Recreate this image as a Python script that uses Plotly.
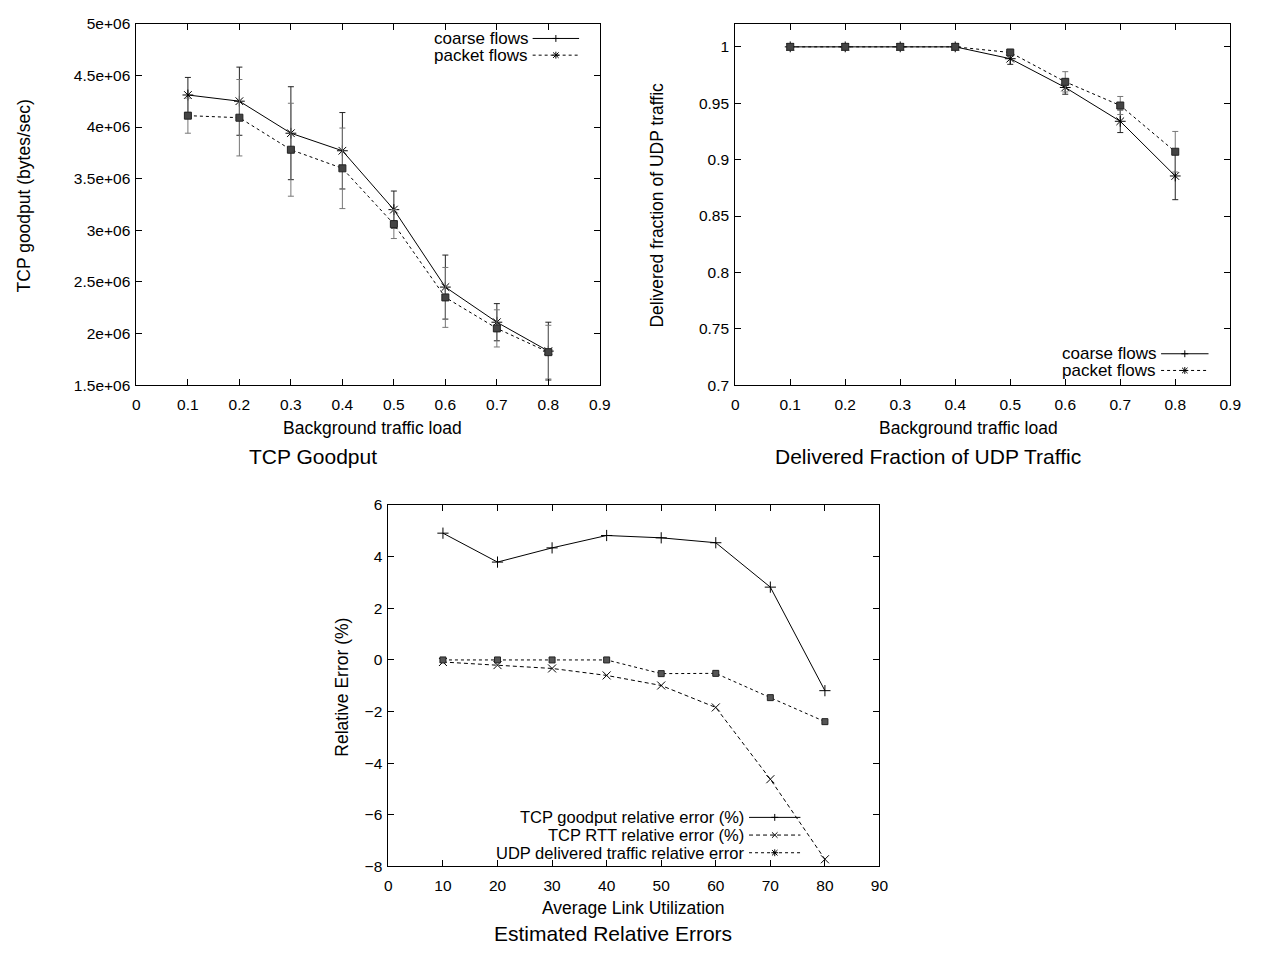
import plotly.graph_objects as go

# ---------------- data ----------------
load = [0.1, 0.2, 0.3, 0.4, 0.5, 0.6, 0.7, 0.8]
goodput_coarse = [4.31e6, 4.25e6, 3.94e6, 3.77e6, 3.20e6, 2.45e6, 2.11e6, 1.83e6]
goodput_coarse_err = [0.17e6, 0.33e6, 0.45e6, 0.37e6, 0.18e6, 0.31e6, 0.18e6, 0.28e6]
goodput_packet = [4.11e6, 4.09e6, 3.78e6, 3.60e6, 3.06e6, 2.35e6, 2.05e6, 1.82e6]
goodput_packet_err = [0.17e6, 0.37e6, 0.45e6, 0.39e6, 0.14e6, 0.29e6, 0.18e6, 0.26e6]

udp_coarse = [1.0, 1.0, 1.0, 1.0, 0.9895, 0.964, 0.934, 0.8855]
udp_coarse_err = [0.0, 0.0, 0.0, 0.0, 0.005, 0.006, 0.010, 0.021]
udp_packet = [1.0, 1.0, 1.0, 1.0, 0.995, 0.969, 0.948, 0.907]
udp_packet_err = [0.0, 0.0, 0.0, 0.0, 0.002, 0.009, 0.008, 0.018]

util = [10, 20, 30, 40, 50, 60, 70, 80]
err_goodput = [4.91, 3.79, 4.34, 4.82, 4.73, 4.54, 2.82, -1.19]
err_rtt = [-0.08, -0.20, -0.33, -0.60, -0.99, -1.84, -4.62, -7.72]
err_udp = [0.0, 0.0, 0.0, 0.0, -0.53, -0.52, -1.46, -2.39]

load_ticks = [0, 0.1, 0.2, 0.3, 0.4, 0.5, 0.6, 0.7, 0.8, 0.9]
load_ticktext = ["0", "0.1", "0.2", "0.3", "0.4", "0.5", "0.6", "0.7", "0.8", "0.9"]
goodput_ticks = [1.5e6, 2e6, 2.5e6, 3e6, 3.5e6, 4e6, 4.5e6, 5e6]
goodput_ticktext = ["1.5e+06", "2e+06", "2.5e+06", "3e+06", "3.5e+06", "4e+06", "4.5e+06", "5e+06"]
udp_ticks = [0.7, 0.75, 0.8, 0.85, 0.9, 0.95, 1.0]
udp_ticktext = ["0.7", "0.75", "0.8", "0.85", "0.9", "0.95", "1"]
util_ticks = [0, 10, 20, 30, 40, 50, 60, 70, 80, 90]
relerr_ticks = [-8, -6, -4, -2, 0, 2, 4, 6]

# ---------------- layout helpers ----------------
W, H = 1263, 957
FONT = "Liberation Sans, Arial, Helvetica, sans-serif"
TICK = 15.5
LABEL = 17.5
CAPTION = 21


def px(x):
    return x / W


def py(y):
    return 1 - y / H


fig = go.Figure()

# ---- TCP goodput ----
fig.add_trace(go.Scatter(
    x=load, y=goodput_coarse, mode="lines+markers", xaxis="x", yaxis="y",
    line=dict(color="black", width=1, dash="solid"),
    marker=dict(symbol="asterisk-open", size=9, color="black", line=dict(width=1, color="black")),
    error_y=dict(type="data", array=goodput_coarse_err, visible=True, color="#222", thickness=1, width=3),
    showlegend=False))
fig.add_trace(go.Scatter(
    x=load, y=goodput_packet, mode="lines+markers", xaxis="x", yaxis="y",
    line=dict(color="black", width=1, dash="dot"),
    marker=dict(symbol="square", size=7, color="#444", line=dict(width=1, color="#222")),
    error_y=dict(type="data", array=goodput_packet_err, visible=True, color="#777", thickness=1, width=3),
    showlegend=False))

# ---- UDP delivered fraction ----
fig.add_trace(go.Scatter(
    x=load, y=udp_coarse, mode="lines+markers", xaxis="x2", yaxis="y2",
    line=dict(color="black", width=1, dash="solid"),
    marker=dict(symbol="asterisk-open", size=9, color="black", line=dict(width=1, color="black")),
    error_y=dict(type="data", array=udp_coarse_err, visible=True, color="#222", thickness=1, width=3),
    showlegend=False))
fig.add_trace(go.Scatter(
    x=load, y=udp_packet, mode="lines+markers", xaxis="x2", yaxis="y2",
    line=dict(color="black", width=1, dash="dot"),
    marker=dict(symbol="square", size=7, color="#444", line=dict(width=1, color="#222")),
    error_y=dict(type="data", array=udp_packet_err, visible=True, color="#777", thickness=1, width=3),
    showlegend=False))

# ---- Relative errors ----
fig.add_trace(go.Scatter(
    x=util, y=err_goodput, mode="lines+markers", xaxis="x3", yaxis="y3",
    line=dict(color="black", width=1, dash="solid"),
    marker=dict(symbol="cross-thin-open", size=8, line=dict(width=1, color="black")),
    showlegend=False))
fig.add_trace(go.Scatter(
    x=util, y=err_rtt, mode="lines+markers", xaxis="x3", yaxis="y3",
    line=dict(color="black", width=1, dash="4px,3px"),
    marker=dict(symbol="x-thin-open", size=8, line=dict(width=1, color="black")),
    showlegend=False))
fig.add_trace(go.Scatter(
    x=util, y=err_udp, mode="lines+markers", xaxis="x3", yaxis="y3",
    line=dict(color="black", width=1, dash="dot"),
    marker=dict(symbol="square", size=6, color="#555", line=dict(width=1, color="#222")),
    showlegend=False))

axis_common = dict(
    showline=True, linecolor="black", linewidth=1, mirror="ticks",
    ticks="inside", ticklen=6, tickcolor="black", tickwidth=1,
    showgrid=False, zeroline=False,
    tickfont=dict(family=FONT, size=TICK, color="black"),
)
xaxis_common = dict(ticklabelstandoff=5, **axis_common)
yaxis_common = dict(ticklabelstandoff=2, **axis_common)

fig.update_layout(
    width=W, height=H, margin=dict(l=0, r=0, t=0, b=0),
    paper_bgcolor="white", plot_bgcolor="white",
    font=dict(family=FONT, color="black"),
    xaxis=dict(domain=[px(134), px(603)], anchor="y", range=[0, 0.9],
               tickvals=load_ticks, ticktext=load_ticktext, **xaxis_common),
    yaxis=dict(domain=[py(383), py(15)], anchor="x", range=[1.5e6, 5e6],
               tickvals=goodput_ticks, ticktext=goodput_ticktext, **yaxis_common),
    xaxis2=dict(domain=[px(740), px(1241)], anchor="y2", range=[0, 0.9],
                tickvals=load_ticks, ticktext=load_ticktext, **xaxis_common),
    yaxis2=dict(domain=[py(383), py(15)], anchor="x2", range=[0.7, 1.0205],
                tickvals=udp_ticks, ticktext=udp_ticktext, **yaxis_common),
    xaxis3=dict(domain=[px(389), px(886)], anchor="y3", range=[0, 90],
                tickvals=util_ticks, **xaxis_common),
    yaxis3=dict(domain=[py(873), py(505)], anchor="x3", range=[-8, 6],
                tickvals=relerr_ticks, **yaxis_common),
)

ann = []


def text(x, y, s, size=LABEL, angle=0, xanchor="center"):
    ann.append(dict(x=px(x), y=py(y), xref="paper", yref="paper", text=s,
                    showarrow=False, textangle=angle, xanchor=xanchor, yanchor="middle",
                    font=dict(family=FONT, size=size, color="black")))


# axis titles and sub-captions
text(20, 190, "TCP goodput (bytes/sec)", angle=-90)
text(373, 427, "Background traffic load")
text(313, 456, "TCP Goodput", size=CAPTION)
text(661, 200, "Delivered fraction of UDP traffic", angle=-90)
text(976, 427, "Background traffic load")
text(935, 456, "Delivered Fraction of UDP Traffic", size=CAPTION)
text(342, 690, "Relative Error (%)", angle=-90)
text(637, 915, "Average Link Utilization")
text(616, 941, "Estimated Relative Errors", size=CAPTION)

shapes = []


def seg(x0, y0, x1, y1, dash="solid"):
    shapes.append(dict(type="line", xref="paper", yref="paper",
                       x0=px(x0), x1=px(x1), y0=py(y0), y1=py(y1),
                       line=dict(color="black", width=1, dash=dash)))


def legend_mark(cx, cy, kind):
    r = 3.5
    if kind in ("plus", "star"):
        seg(cx - r, cy, cx + r, cy)
        seg(cx, cy - r, cx, cy + r)
    if kind in ("cross", "star"):
        seg(cx - r * 0.8, cy - r * 0.8, cx + r * 0.8, cy + r * 0.8)
        seg(cx - r * 0.8, cy + r * 0.8, cx + r * 0.8, cy - r * 0.8)


def legend_entry(xtext, x0, x1, y, label, dash, kind, size=16.5):
    ann.append(dict(x=px(xtext), y=py(y), xref="paper", yref="paper", text=label,
                    showarrow=False, xanchor="right", yanchor="middle",
                    font=dict(family=FONT, size=size, color="black")))
    seg(x0, y, x1, y, dash)
    legend_mark((x0 + x1) / 2, y, kind)


legend_entry(532, 535, 582, 30, "coarse flows", "solid", "plus", size=17)
legend_entry(532, 535, 582, 47, "packet flows", "dot", "star", size=17)
legend_entry(1168, 1171, 1219, 351, "coarse flows", "solid", "plus", size=17)
legend_entry(1168, 1171, 1219, 368, "packet flows", "dot", "star", size=17)
legend_entry(751, 754, 806, 823, "TCP goodput relative error (%)", "solid", "plus")
legend_entry(751, 754, 806, 841, "TCP RTT relative error (%)", "4px,3px", "cross")
legend_entry(751, 754, 806, 859, "UDP delivered traffic relative error", "dot", "star")

fig.update_layout(annotations=ann, shapes=shapes)

fig.write_html("out.html", config={"displayModeBar": False},
               post_script="document.body.style.margin='0';document.body.style.overflow='hidden';")
